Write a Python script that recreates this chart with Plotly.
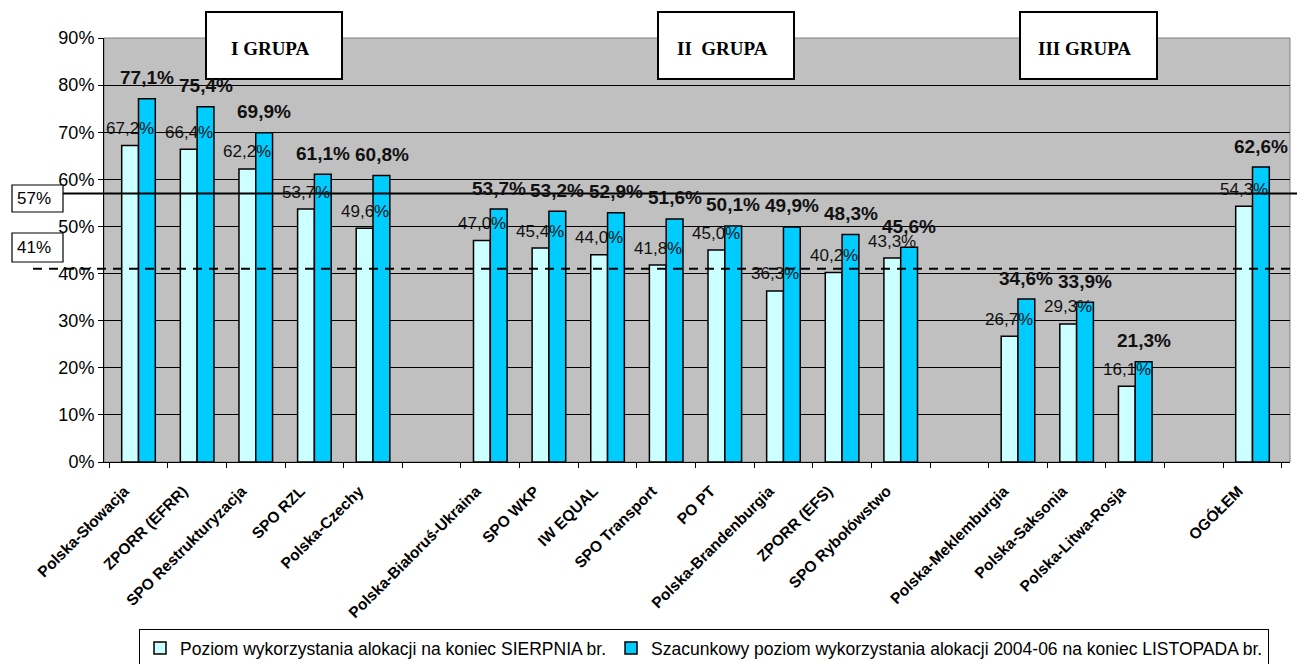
import plotly.graph_objects as go

categories = ["Polska-Słowacja", "ZPORR (EFRR)", "SPO Restrukturyzacja", "SPO RZL", "Polska-Czechy", " ",
              "Polska-Białoruś-Ukraina", "SPO WKP", "IW EQUAL", "SPO Transport", "PO PT",
              "Polska-Brandenburgia", "ZPORR (EFS)", "SPO Rybołówstwo", "  ",
              "Polska-Meklemburgia", "Polska-Saksonia", "Polska-Litwa-Rosja", "   ", "OGÓŁEM"]
sierpien = [67.2, 66.4, 62.2, 53.7, 49.6, None,
            47.0, 45.4, 44.0, 41.8, 45.0, 36.3, 40.2, 43.3, None,
            26.7, 29.3, 16.1, None, 54.3]
listopad = [77.1, 75.4, 69.9, 61.1, 60.8, None,
            53.7, 53.2, 52.9, 51.6, 50.1, 49.9, 48.3, 45.6, None,
            34.6, 33.9, 21.3, None, 62.6]
series_names = ["Poziom wykorzystania alokacji na koniec SIERPNIA br.",
                "Szacunkowy poziom wykorzystania alokacji 2004-06 na koniec LISTOPADA br."]
group_labels = ["I GRUPA", "II  GRUPA", "III GRUPA"]
threshold_solid = 57
threshold_dashed = 41
y_ticks = [0, 10, 20, 30, 40, 50, 60, 70, 80, 90]
y_tick_labels = [f"{v}%" for v in y_ticks]

W, H = 1297, 664
L, R, T, B = 104, 1290, 38, 462


def px(x):
    return (x - L) / (R - L)


def py(y):
    return (B - y) / (B - T)


def fmt(v):
    return f"{v:.1f}".replace(".", ",") + "%"


SANS = "Liberation Sans, Arial, sans-serif"
SERIF = "Liberation Serif, Times New Roman, serif"

fig = go.Figure()
fig.add_trace(go.Bar(x=categories, y=sierpien, name=series_names[0],
                     marker=dict(color="#CCFFFF", line=dict(color="black", width=1.5))))
fig.add_trace(go.Bar(x=categories, y=listopad, name=series_names[1],
                     marker=dict(color="#00CCFF", line=dict(color="black", width=1.5))))

annotations = []
for i, v in enumerate(sierpien):
    if v is not None:
        annotations.append(dict(x=i, y=v, xref="x", yref="y", text=fmt(v), showarrow=False,
                                xshift=-8.5, yshift=17, yanchor="middle",
                                font=dict(family=SANS, size=17, color="#111")))
for i, v in enumerate(listopad):
    if v is not None:
        annotations.append(dict(x=i, y=v, xref="x", yref="y", text="<b>" + fmt(v) + "</b>",
                                showarrow=False, xshift=8.5, yshift=21, yanchor="middle",
                                font=dict(family=SANS, size=19, color="#111")))

shapes = []
shapes.append(dict(type="rect", xref="paper", yref="paper", x0=0, x1=1, y0=0, y1=1,
                   line=dict(color="#808080", width=1), layer="below"))
shapes.append(dict(type="line", xref="paper", yref="y", x0=px(63), x1=px(1297),
                   y0=threshold_solid, y1=threshold_solid, line=dict(color="black", width=2)))
shapes.append(dict(type="line", xref="paper", yref="y", x0=px(33), x1=px(1297),
                   y0=threshold_dashed, y1=threshold_dashed,
                   line=dict(color="black", width=2, dash="9px,7px")))

for (x0, x1, y0, y1, txt) in [(12, 63, 185, 212, f"{threshold_solid}%"),
                              (12, 63, 233, 262, f"{threshold_dashed}%")]:
    shapes.append(dict(type="rect", xref="paper", yref="paper", x0=px(x0), x1=px(x1),
                       y0=py(y1), y1=py(y0), fillcolor="white",
                       line=dict(color="black", width=1.2)))
    annotations.append(dict(x=px(x0 + 3), y=py((y0 + y1) / 2), xref="paper", yref="paper",
                            text=txt, showarrow=False, xanchor="left", yanchor="middle",
                            font=dict(family=SANS, size=17, color="black")))

for (x0, x1), txt in zip([(206, 342), (658, 794), (1020, 1157)], group_labels):
    shapes.append(dict(type="rect", xref="paper", yref="paper", x0=px(x0), x1=px(x1),
                       y0=py(79), y1=py(12), fillcolor="white",
                       line=dict(color="black", width=2)))
    annotations.append(dict(x=px((x0 + x1) / 2 - 4), y=py(49), xref="paper", yref="paper",
                            text="<b>" + txt + "</b>", showarrow=False,
                            xanchor="center", yanchor="middle",
                            font=dict(family=SERIF, size=19, color="black")))

fig.update_layout(
    width=W, height=H,
    margin=dict(l=L, r=W - R, t=T, b=H - B, autoexpand=False),
    paper_bgcolor="white", plot_bgcolor="#C0C0C0",
    barmode="group", bargap=0.427, bargroupgap=0,
    font=dict(family=SANS, color="black"),
    showlegend=True,
    legend=dict(orientation="h", x=px(704), xanchor="center", y=py(629), yanchor="top",
                bordercolor="black", borderwidth=1, bgcolor="white",
                font=dict(family=SANS, size=17.5, color="black"),
                itemwidth=30, tracegroupgap=0),
    annotations=annotations,
    shapes=shapes,
    xaxis=dict(type="category", categoryorder="array", categoryarray=categories,
               tickangle=-45, tickson="boundaries", ticks="outside", ticklen=5,
               tickcolor="black", showline=True, linecolor="black", linewidth=1,
               showgrid=False, zeroline=False, ticklabelstandoff=13, ticklabelshift=-14,
               tickfont=dict(family=SANS, size=15.5, color="black", weight="bold")),
    yaxis=dict(range=[0, 90], tickmode="array", tickvals=y_ticks, ticktext=y_tick_labels,
               ticks="outside", ticklen=5,
               tickcolor="black", showline=True, linecolor="black", linewidth=1,
               showgrid=True, gridcolor="black", gridwidth=1, zeroline=False,
               tickfont=dict(family=SANS, size=18, color="black")),
)

fig.write_html("out.html", config={"displayModeBar": False},
               post_script="document.body.style.margin='0px';")
